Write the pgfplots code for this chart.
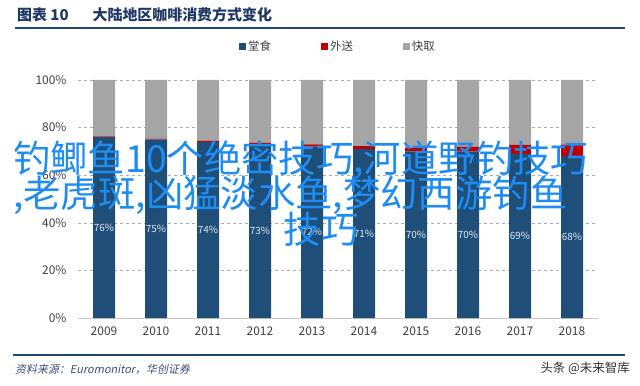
\documentclass[border=0pt]{standalone}
\usepackage{fontspec}
\setmainfont{Noto Sans CJK SC}
\newfontfamily\srcfont[FakeSlant=0.2]{Noto Sans CJK SC}
\usepackage{pgfplots}
\pgfplotsset{compat=1.18}
\definecolor{cblue}{RGB}{31,78,121}
\definecolor{cred}{RGB}{192,0,0}
\definecolor{cgray}{RGB}{165,165,165}
\definecolor{titleblue}{RGB}{31,56,100}
\definecolor{linecol}{RGB}{31,73,110}
\definecolor{tickgray}{RGB}{64,64,64}
\definecolor{srccol}{RGB}{60,80,120}
\definecolor{overblue}{RGB}{30,140,240}
\definecolor{labcol}{RGB}{225,230,238}
\begin{document}
\begin{tikzpicture}[x=1bp,y=1bp]
\path[use as bounding box, fill=white] (0,0) rectangle (640,385);
\node[anchor=west, text=titleblue, font=\bfseries\fontsize{15}{15}\selectfont, inner sep=0] at (17,370) {图表 10\hspace{1.6em}大陆地区咖啡消费方式变化};
\draw[linecol, line width=1.5bp] (15,357) -- (625,357);
\begin{axis}[
  at={(78bp,67bp)}, anchor=south west,
  scale only axis, width=520bp, height=238bp,
  ybar stacked, bar width=22bp,
  xmin=2008.5, xmax=2018.5, ymin=0, ymax=100,
  xtick={2009,...,2018},
  xticklabel style={/pgf/number format/1000 sep=, yshift=-5bp},
  ytick={0,20,...,100},
  yticklabel={\pgfmathprintnumber{\tick}\%},
  yticklabel style={xshift=-8bp},
  /pgf/number format/assume math mode=true,
  tick label style={font=\fontsize{12}{12}\selectfont, text=tickgray},
  major tick length=0pt,
  ymajorgrids, major grid style={dashed, color=gray!65, line width=0.6bp},
  separate axis lines,
  axis x line*=bottom, axis y line*=left,
  x axis line style={color=gray!45, line width=0.8bp},
  y axis line style={draw=none},
  legend style={at={(0.5,1)}, anchor=south, yshift=24bp, draw=none, fill=none,
    legend columns=3, font=\fontsize{11.5}{12}\selectfont, text=tickgray,
    /tikz/every even column/.append style={column sep=48bp}},
  legend image code/.code={\fill[#1] (0bp,-3.5bp) rectangle (7bp,3.5bp);},
]
\addplot[fill=cblue, draw=none] coordinates {(2009,76)(2010,75)(2011,74)(2012,73)(2013,72)(2014,71)(2015,70)(2016,70)(2017,69)(2018,68)};
\addplot[fill=cred, draw=none] coordinates {(2009,0.3)(2010,0.4)(2011,0.5)(2012,0.7)(2013,0.9)(2014,1.2)(2015,1.5)(2016,2.0)(2017,3.7)(2018,4.8)};
\addplot[fill=cgray, draw=none] coordinates {(2009,23.7)(2010,24.6)(2011,25.5)(2012,26.3)(2013,27.1)(2014,27.8)(2015,28.5)(2016,28.0)(2017,27.3)(2018,27.2)};
\legend{堂食,外送,快取}
\end{axis}
\begin{axis}[
  at={(78bp,67bp)}, anchor=south west,
  scale only axis, width=520bp, height=238bp,
  xmin=2008.5, xmax=2018.5, ymin=0, ymax=100, hide axis,
]
\addplot[draw=none, mark=none, nodes near coords, point meta=explicit symbolic,
  nodes near coords style={anchor=center, font=\fontsize{10}{10}\selectfont, text=labcol}]
  coordinates {(2009,38)[76\%] (2010,37.5)[75\%] (2011,37)[74\%] (2012,36.5)[73\%] (2013,36)[72\%] (2014,35.5)[71\%] (2015,35)[70\%] (2016,35)[70\%] (2017,34.5)[69\%] (2018,34)[68\%]};
\end{axis}
\draw[linecol, line width=1.5bp] (13,30) -- (625,30);
\node[anchor=west, inner sep=0, text=srccol, font=\srcfont\fontsize{11}{11}\selectfont] at (15,16) {资料来源：Euromonitor，华创证券};
\node[anchor=east, inner sep=0, text=black!80, font=\fontsize{12.5}{13}\selectfont] at (630,17) {头条 @未来智库};
\node[anchor=west, inner sep=0, text=overblue, font=\fontsize{37.5}{38}\selectfont] at (13,225) {钓鲫鱼10个绝密技巧,河道野钓技巧};
\node[anchor=west, inner sep=0, text=overblue, font=\fontsize{37.5}{38}\selectfont] at (13,190) {,老虎斑,凶猛淡水鱼,梦幻西游钓鱼};
\node[anchor=center, inner sep=0, text=overblue, font=\fontsize{37.5}{38}\selectfont] at (321,156) {技巧};
\end{tikzpicture}
\end{document}
